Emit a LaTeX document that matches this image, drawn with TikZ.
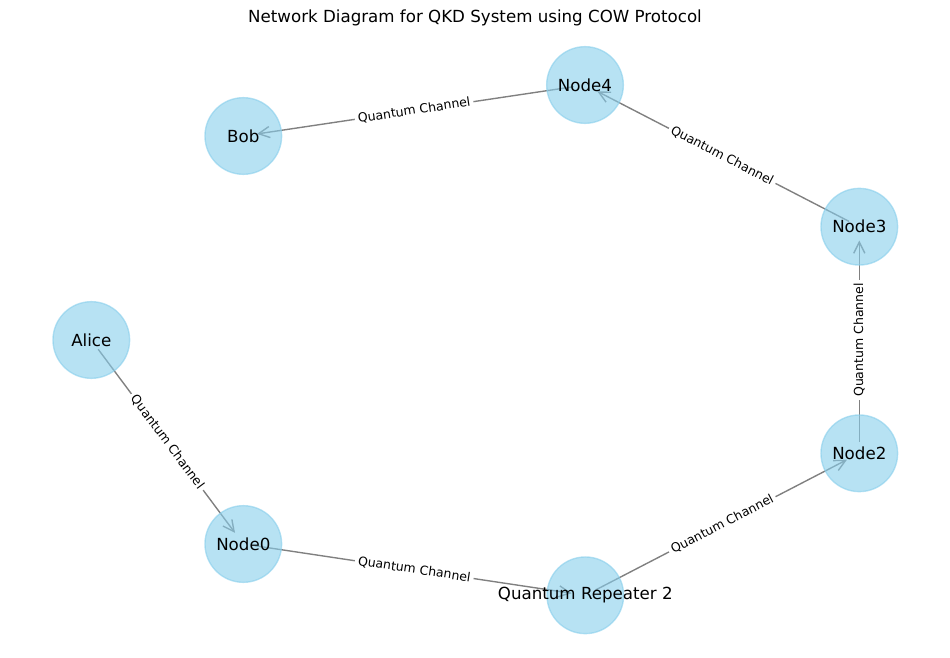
\documentclass[tikz,border=0pt]{standalone}
\usepackage{fontspec}
\setmainfont{DejaVu Sans}
\usetikzlibrary{arrows.meta}
\pgfdeclarelayer{bg}
\pgfsetlayers{bg,main}
\definecolor{skyblue}{HTML}{87CEEB}
\begin{document}
\begin{tikzpicture}[x=0.72pt,y=-0.72pt,
  qnode/.style={circle, minimum size=55.2pt, inner sep=0pt,
    fill=skyblue, fill opacity=0.6, draw=skyblue, draw opacity=0.6,
    line width=1pt,
    label={[text opacity=1, fill opacity=1, text=black, inner sep=0pt,
      font=\fontsize{12}{12}\selectfont]center:#1}},
  chan/.style={draw=gray, line width=1pt,
    -{Straight Barb[length=8pt,width=8pt]},
    shorten <=8.3pt, shorten >=10pt},
  chlabel/.style={midway, sloped, fill=white, inner sep=2.2pt,
    font=\fontsize{9}{9}\selectfont, text=black}]
\useasboundingbox (0,0) rectangle (950,658);
\node[font=\fontsize{12}{12}\selectfont] (title) at (475,18) {Network Diagram for QKD System using COW Protocol};
\node[qnode=Alice] (alice) at (91.3,340) {};
\node[qnode=Bob] (bob) at (243.3,136) {};
\node[qnode=Node4] (n4) at (585,85) {};
\node[qnode=Node3] (n3) at (859.3,226.7) {};
\node[qnode=Node2] (n2) at (859.3,453.3) {};
\node[qnode=Quantum Repeater 2] (qr) at (585.3,595.3) {};
\node[qnode=Node0] (n0) at (243.3,544) {};
\begin{pgfonlayer}{bg}
\draw[chan] (alice.center) -- node[chlabel]{Quantum Channel} (n0.center);
\draw[chan] (n0.center) -- node[chlabel]{Quantum Channel} (qr.center);
\draw[chan] (qr.center) -- node[chlabel]{Quantum Channel} (n2.center);
\draw[chan] (n2.center) -- node[chlabel]{Quantum Channel} (n3.center);
\draw[chan] (n3.center) -- node[chlabel]{Quantum Channel} (n4.center);
\draw[chan] (n4.center) -- node[chlabel]{Quantum Channel} (bob.center);
\end{pgfonlayer}
\end{tikzpicture}
\end{document}
